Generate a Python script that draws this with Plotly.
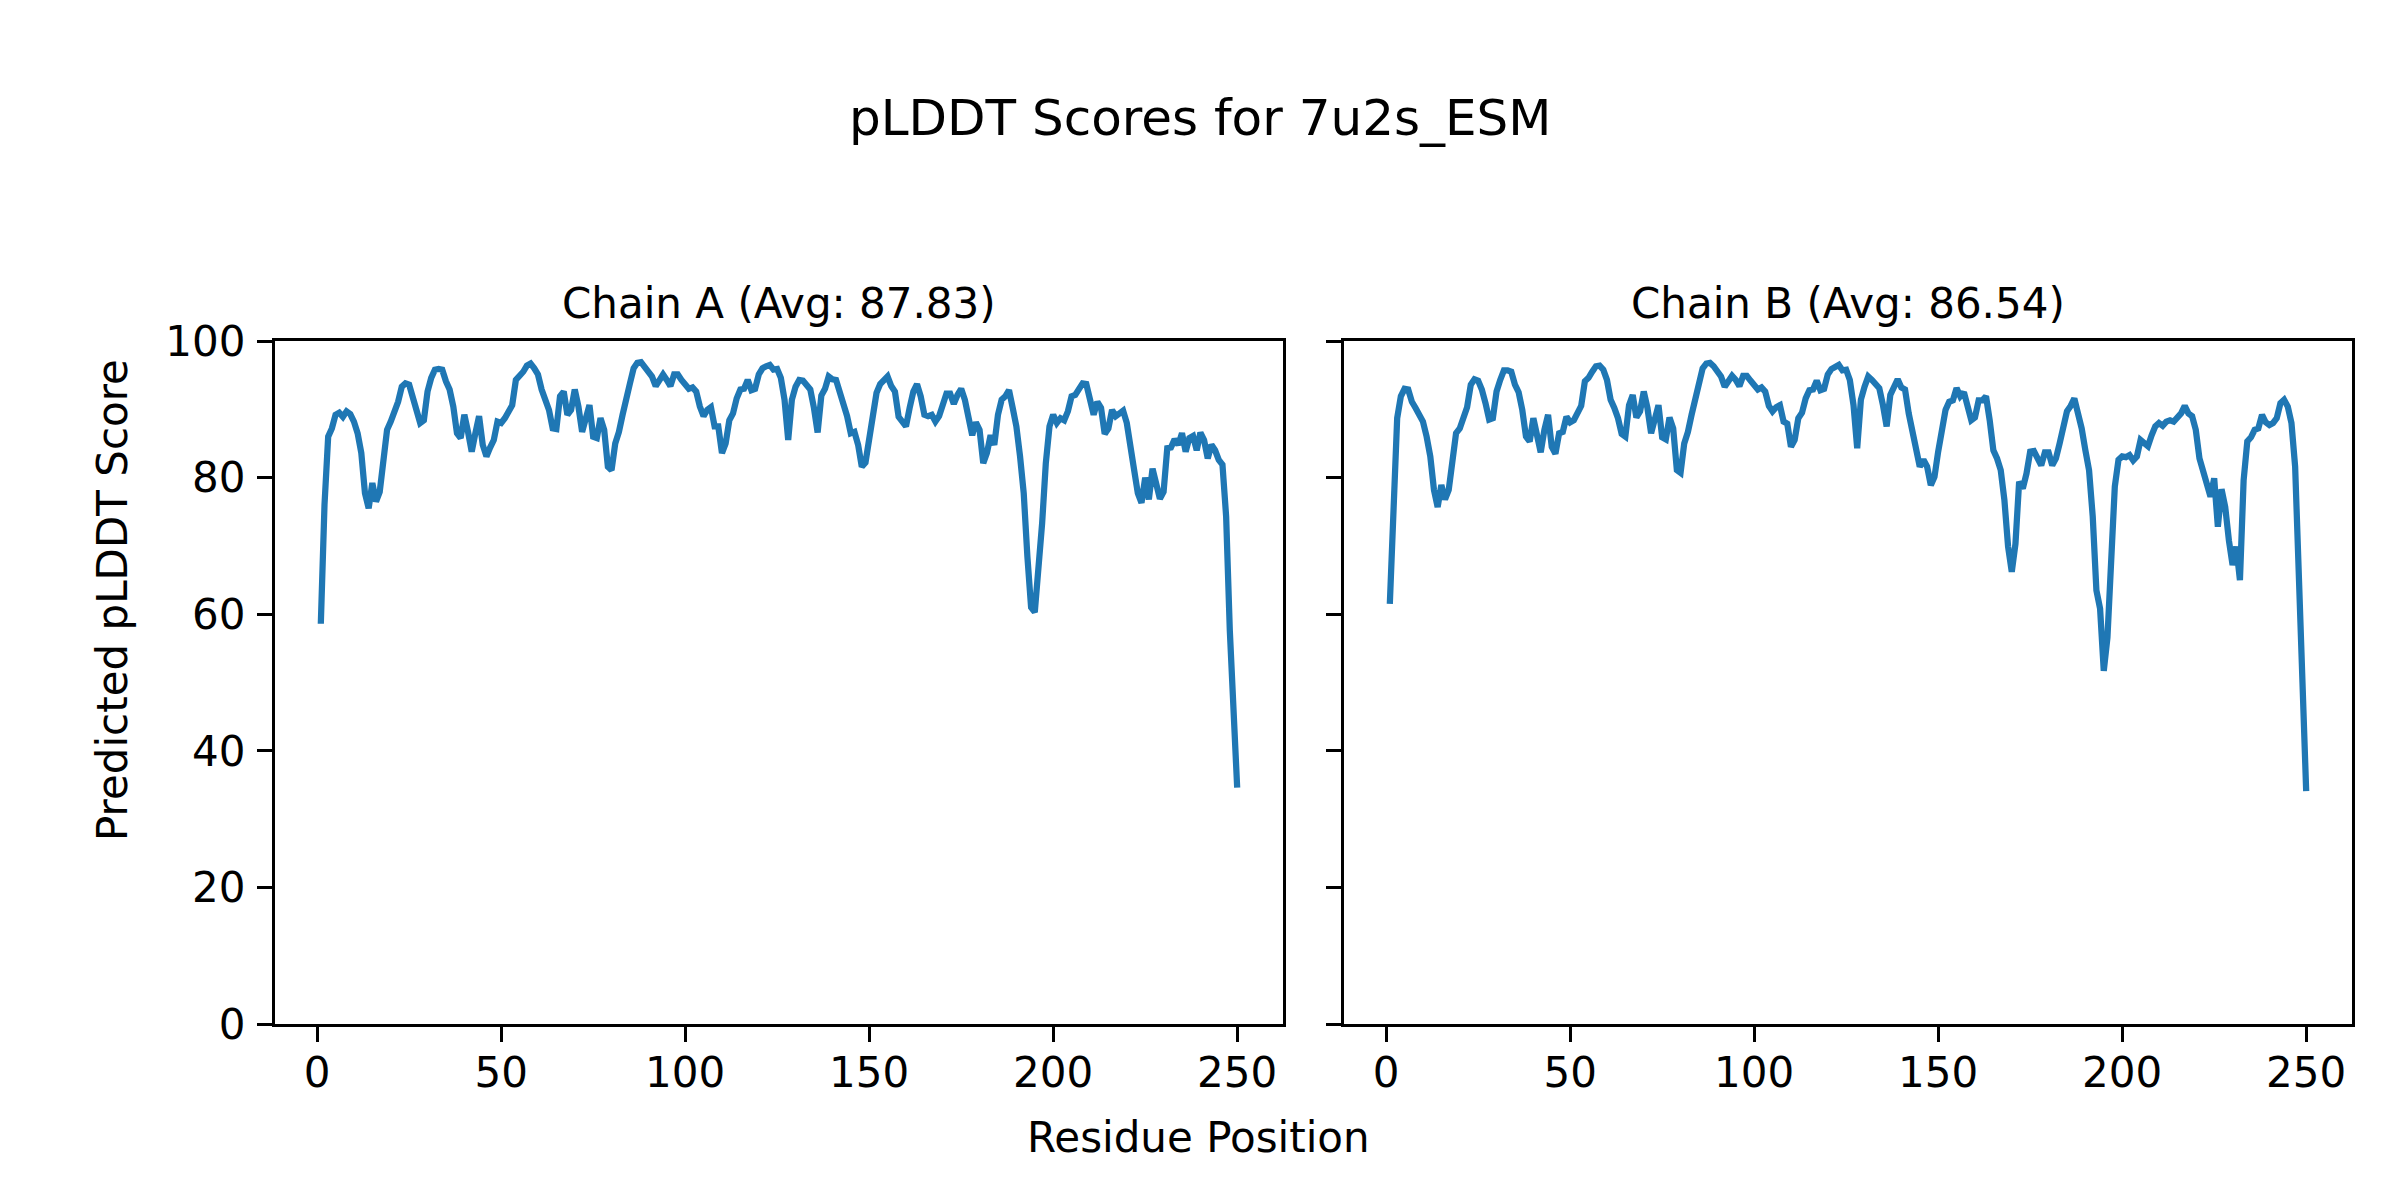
import plotly.graph_objects as go

residues = list(range(1, 251))

chain_a_scores = [
    58.6, 76.0, 86.0, 87.2, 89.2, 89.5, 88.9, 89.7, 89.3, 88.2,
    86.5, 83.6, 77.7, 75.5, 79.2, 76.5, 77.9, 83.1, 87.0, 88.2,
    89.4, 91.1, 93.3, 93.8, 93.6, 91.6, 89.9, 88.0, 88.4, 92.6,
    94.6, 95.8, 95.9, 95.8, 94.1, 92.9, 90.4, 86.5, 85.8, 89.2,
    86.7, 83.8, 86.5, 89.0, 84.8, 83.1, 84.4, 85.5, 88.2, 88.0,
    88.7, 89.7, 90.6, 94.3, 94.8, 95.5, 96.4, 96.7, 96.0, 95.1,
    92.9, 91.4, 89.9, 87.2, 87.1, 91.9, 92.6, 89.2, 89.9, 92.9,
    90.4, 86.7, 88.9, 90.6, 86.0, 85.8, 88.7, 87.0, 81.6, 81.1,
    85.0, 86.7, 89.2, 91.1, 93.8, 96.0, 96.8, 96.9, 96.3, 95.5,
    94.8, 93.4, 94.1, 95.1, 94.3, 93.4, 95.1, 95.1, 94.3, 93.6,
    93.0, 93.2, 92.6, 90.4, 89.0, 89.9, 90.3, 87.5, 87.5, 83.6,
    85.0, 88.4, 89.4, 91.6, 92.9, 93.0, 94.3, 92.8, 93.0, 95.1,
    96.0, 96.3, 96.5, 95.8, 95.9, 94.6, 91.4, 85.5, 91.4, 93.3,
    94.3, 94.2, 93.6, 92.9, 90.2, 86.6, 92.0, 93.0, 94.8, 94.4,
    94.3, 92.6, 90.3, 89.0, 86.5, 86.7, 84.8, 81.6, 82.2, 85.5,
    88.9, 92.4, 93.7, 94.3, 94.8, 93.4, 92.6, 88.9, 88.1, 87.5,
    90.2, 92.6, 93.7, 91.9, 89.2, 89.0, 89.2, 88.2, 89.0, 90.4,
    92.3, 92.3, 90.8, 92.1, 93.0, 91.4, 88.9, 86.2, 88.1, 87.0,
    82.1, 83.6, 86.2, 84.8, 89.2, 91.4, 91.9, 92.8, 90.2, 87.5,
    83.1, 77.7, 68.4, 61.0, 60.3, 66.4, 73.3, 82.1, 87.5, 89.2,
    88.0, 88.7, 88.4, 89.7, 91.9, 92.1, 93.2, 93.8, 93.7, 90.9,
    89.2, 91.1, 90.2, 86.4, 87.2, 89.9, 89.0, 89.4, 89.8, 88.0,
    83.8, 81.1, 77.7, 76.3, 80.0, 76.8, 81.3, 78.7, 76.9, 77.9,
    84.3, 84.4, 85.6, 84.8, 86.5, 83.8, 85.8, 86.1, 84.0, 86.6,
    85.5, 82.8, 84.8, 84.0, 82.6, 81.9, 74.3, 57.6, 45.4, 34.6,
]

chain_b_scores = [
    61.5, 78.7, 88.7, 91.9, 93.0, 92.9, 91.1, 90.2, 89.4, 88.2,
    86.0, 83.1, 78.2, 75.7, 78.9, 76.8, 78.2, 83.1, 86.5, 87.2,
    88.9, 90.3, 93.6, 94.4, 94.2, 92.9, 90.9, 88.5, 88.7, 92.6,
    94.3, 95.7, 95.7, 95.5, 93.6, 92.5, 89.9, 86.0, 85.3, 88.7,
    86.2, 83.7, 87.0, 89.2, 84.5, 83.5, 86.5, 86.7, 88.9, 88.1,
    88.4, 89.4, 90.5, 94.1, 94.6, 95.5, 96.3, 96.4, 95.8, 94.3,
    91.4, 90.2, 88.7, 86.4, 86.0, 90.6, 92.1, 88.8, 89.7, 92.6,
    90.2, 86.5, 88.9, 90.6, 85.9, 85.6, 88.8, 87.2, 81.1, 80.7,
    85.0, 86.7, 89.2, 91.4, 93.6, 96.0, 96.7, 96.8, 96.3, 95.5,
    94.8, 93.3, 94.1, 94.9, 94.3, 93.4, 94.9, 94.9, 94.2, 93.6,
    92.9, 93.2, 92.6, 90.5, 89.7, 90.3, 90.6, 88.2, 87.9, 84.5,
    85.5, 88.7, 89.5, 91.6, 92.8, 92.9, 94.2, 92.8, 93.0, 95.1,
    95.9, 96.2, 96.5, 95.7, 95.8, 94.3, 90.6, 84.3, 91.4, 93.3,
    94.8, 94.3, 93.7, 93.1, 90.6, 87.5, 92.1, 93.2, 94.4, 93.2,
    92.9, 89.4, 86.5, 84.0, 81.6, 82.6, 81.6, 78.9, 80.1, 83.8,
    87.0, 89.9, 91.1, 91.3, 93.1, 91.9, 92.5, 90.2, 88.4, 88.8,
    91.3, 91.3, 91.9, 88.4, 84.0, 82.8, 81.1, 76.7, 69.9, 66.2,
    70.3, 79.4, 78.4, 80.6, 83.8, 83.9, 82.6, 81.8, 83.7, 83.7,
    81.8, 82.8, 85.0, 87.2, 89.7, 90.5, 91.6, 89.4, 87.2, 84.0,
    81.1, 74.3, 63.5, 60.8, 51.7, 56.6, 67.4, 78.7, 82.6, 83.1,
    83.0, 83.3, 82.5, 83.1, 85.5, 85.1, 84.6, 86.2, 87.5, 88.0,
    87.6, 88.2, 88.4, 88.2, 88.8, 89.4, 90.5, 89.4, 89.0, 87.0,
    82.8, 81.1, 78.7, 77.2, 79.9, 72.8, 78.3, 75.7, 70.8, 67.2,
    69.9, 65.0, 79.6, 85.3, 85.9, 87.0, 87.2, 89.2, 88.1, 87.7,
    88.0, 88.7, 90.9, 91.4, 90.4, 88.0, 81.6, 67.4, 50.3, 34.1,
]

suptitle = "pLDDT Scores for 7u2s_ESM"
subplot_titles = ["Chain A (Avg: 87.83)", "Chain B (Avg: 86.54)"]
x_label = "Residue Position"
y_label = "Predicted pLDDT Score"
x_ticks = [0, 50, 100, 150, 200, 250]
y_ticks = [0, 20, 40, 60, 80, 100]

W, H = 2400, 1200
OFFSET = 8  # default page body margin in the browser
FONT = "DejaVu Sans, Liberation Sans, sans-serif"
LINE_COLOR = "#1f77b4"

# axes geometry (screen pixels)
left_ax = (275, 1283)
right_ax = (1344, 2352)
top_px, bottom_px = 341, 1024

def px_x(v):
    return (v - OFFSET) / W

def px_y(v):
    return 1 - (v - OFFSET) / H

fig = go.Figure()
fig.add_trace(go.Scatter(x=residues, y=chain_a_scores, mode="lines",
                         line=dict(color=LINE_COLOR, width=6.25),
                         xaxis="x", yaxis="y", showlegend=False))
fig.add_trace(go.Scatter(x=residues, y=chain_b_scores, mode="lines",
                         line=dict(color=LINE_COLOR, width=6.25),
                         xaxis="x2", yaxis="y2", showlegend=False))

common_axis = dict(
    showgrid=False, zeroline=False, showline=True, mirror=True,
    linecolor="black", linewidth=3.3, ticks="outside", ticklen=15,
    tickwidth=3.3, tickcolor="black", automargin=False,
    tickfont=dict(family=FONT, size=42, color="black"),
)
xr = [-11.45, 262.45]
yr = [0, 100]

fig.update_layout(
    template="none",
    width=W, height=H,
    paper_bgcolor="white", plot_bgcolor="white",
    margin=dict(l=0, r=0, t=0, b=0, pad=0),
    font=dict(family=FONT, color="black"),
    xaxis=dict(domain=[px_x(left_ax[0]), px_x(left_ax[1])], range=xr,
               tickvals=x_ticks, anchor="y", ticklabelstandoff=-6, **common_axis),
    yaxis=dict(domain=[px_y(bottom_px), px_y(top_px)], range=yr,
               tickvals=y_ticks, anchor="x", ticklabelstandoff=3, **common_axis),
    xaxis2=dict(domain=[px_x(right_ax[0]), px_x(right_ax[1])], range=xr,
                tickvals=x_ticks, anchor="y2", ticklabelstandoff=-6, **common_axis),
    yaxis2=dict(domain=[px_y(bottom_px), px_y(top_px)], range=yr,
                tickvals=y_ticks, anchor="x2", showticklabels=False, **common_axis),
)

annotations = [
    dict(text=suptitle, x=px_x(1200), y=px_y(118), xref="paper", yref="paper",
         xanchor="center", yanchor="middle", showarrow=False,
         font=dict(family=FONT, size=50, color="black")),
    dict(text=subplot_titles[0], x=px_x((left_ax[0] + left_ax[1]) / 2), y=px_y(303),
         xref="paper", yref="paper", xanchor="center", yanchor="middle",
         showarrow=False, font=dict(family=FONT, size=42, color="black")),
    dict(text=subplot_titles[1], x=px_x((right_ax[0] + right_ax[1]) / 2), y=px_y(303),
         xref="paper", yref="paper", xanchor="center", yanchor="middle",
         showarrow=False, font=dict(family=FONT, size=42, color="black")),
    dict(text=x_label, x=px_x(1198), y=px_y(1137), xref="paper", yref="paper",
         xanchor="center", yanchor="middle", showarrow=False,
         font=dict(family=FONT, size=42, color="black")),
    dict(text=y_label, x=px_x(112), y=px_y(600), xref="paper", yref="paper",
         xanchor="center", yanchor="middle", showarrow=False, textangle=-90,
         font=dict(family=FONT, size=42, color="black")),
]
fig.update_layout(annotations=annotations)

fig.write_html("out.html")
